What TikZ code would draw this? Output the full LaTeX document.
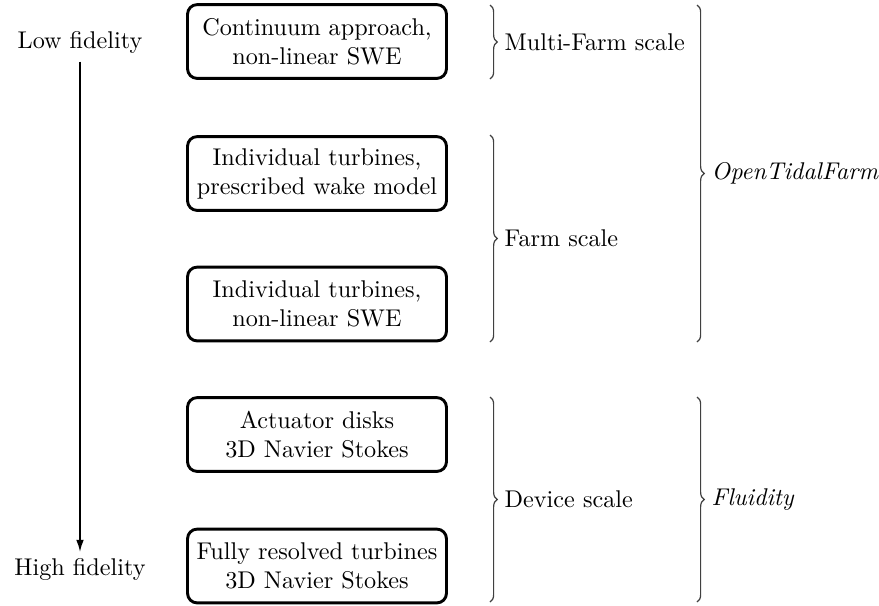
\documentclass[tikz,border=0pt]{standalone}
\usetikzlibrary{decorations.pathreplacing,arrows.meta}
\begin{document}
\begin{tikzpicture}[x=0.4132pt,y=-0.4132pt,
  model/.style={draw,line width=1.2pt,rounded corners=4pt,minimum width=107pt,minimum height=30.5pt,align=center,inner sep=2pt},
  fid/.style={inner sep=3.33pt},
  brc/.style={decorate,decoration={brace,amplitude=3pt},line width=0.5pt,draw=black!75},
  blabel/.style={midway,right=2.5pt,inner sep=3.33pt},
  fidarrow/.style={-{Latex[length=5pt,width=3.2pt]},line width=0.6pt}]
\useasboundingbox (0,0) rectangle (879,605);
% fidelity axis
\node[fid] (low) at (80,42) {Low fidelity};
\node[fid] (high) at (80,569) {High fidelity};
\draw[fidarrow] (low.south) -- ([yshift=-1pt]high.north);
% model boxes
\node[model] (m1) at (317,41.5) {Continuum approach,\\non-linear SWE};
\node[model] (m2) at (317,173.5) {Individual turbines,\\prescribed wake model};
\node[model] (m3) at (317,304) {Individual turbines,\\non-linear SWE};
\node[model] (m4) at (317,434.5) {Actuator disks\\3D Navier Stokes};
\node[model] (m5) at (317,566) {Fully resolved turbines\\3D Navier Stokes};
% brace end points
\coordinate (s1t) at (490,5);
\coordinate (s1b) at (490,79);
\coordinate (s2t) at (490,135);
\coordinate (s2b) at (490,342);
\coordinate (s3t) at (490,397);
\coordinate (s3b) at (490,602);
\coordinate (c1t) at (697,5);
\coordinate (c1b) at (697,342);
\coordinate (c2t) at (697,397);
\coordinate (c2b) at (697,602);
% scale braces
\draw[brc] (s1t) -- node[blabel] (l1) {Multi-Farm scale} (s1b);
\draw[brc] (s2t) -- node[blabel] (l2) {Farm scale} (s2b);
\draw[brc] (s3t) -- node[blabel] (l3) {Device scale} (s3b);
% code braces
\draw[brc] (c1t) -- node[blabel] (l4) {\textit{OpenTidalFarm}} (c1b);
\draw[brc] (c2t) -- node[blabel] (l5) {\textit{Fluidity}} (c2b);
\end{tikzpicture}
\end{document}
